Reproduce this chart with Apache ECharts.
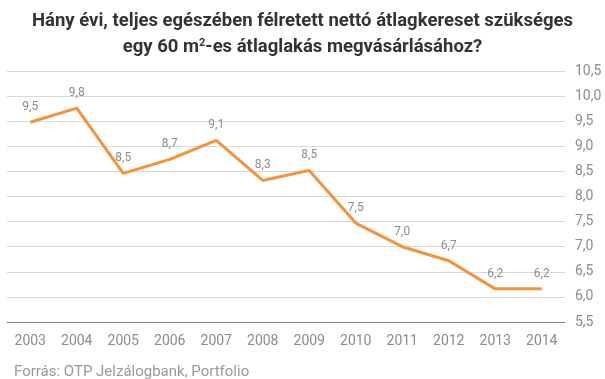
<!DOCTYPE html>
<html><head><meta charset="utf-8">
<script src="https://cdn.jsdelivr.net/npm/echarts@6/dist/echarts.min.js"></script>
<style>html,body{margin:0;padding:0;background:#fff}#c{width:605px;height:379px}</style>
</head><body><div id="c"></div>
<script>
var years = ['2003','2004','2005','2006','2007','2008','2009','2010','2011','2012','2013','2014'];
var values = [9.48, 9.76, 8.46, 8.74, 9.12, 8.32, 8.52, 7.47, 7.0, 6.72, 6.16, 6.16];
var yTicks = {min: 5.5, max: 10.5, interval: 0.5};
var titleLine1 = 'Hány évi, teljes egészében félretett nettó átlagkereset szükséges';
var titleLine2 = 'egy 60 m{sup|2}-es átlaglakás megvásárlásához?';
var source = 'Forrás: OTP Jelzálogbank, Portfolio';

var fmt = function(v){ return v.toFixed(1).replace('.', ','); };
var chart = echarts.init(document.getElementById('c'), null, {renderer:'canvas'});
chart.setOption({
  animation: false,
  title: [{
    text: titleLine1,
    left: 'center', top: 7,
    textStyle: {fontFamily: 'Roboto', fontWeight: 'bold', fontSize: 18.5, color: '#333'}
  },{
    text: titleLine2,
    left: 'center', top: 33,
    textStyle: {fontFamily: 'Roboto', fontWeight: 'bold', fontSize: 18.5, color: '#333',
      rich: {sup: {fontFamily: 'Roboto', fontWeight: 'bold', fontSize: 11, color: '#333', verticalAlign: 'top', padding: [0,0,8,0]}}}
  },{
    text: source,
    left: 9, top: 360,
    textStyle: {fontFamily: 'Roboto', fontWeight: 'normal', fontSize: 15, color: '#999'}
  }],
  grid: {left: 7, right: 40, top: 71, bottom: 57},
  xAxis: {
    type: 'category', data: years, boundaryGap: true,
    axisLine: {lineStyle: {color: '#888', width: 1}},
    axisTick: {show: false},
    axisLabel: {color: '#8c8c8c', fontFamily: 'Roboto', fontSize: 14, margin: 12}
  },
  yAxis: {
    type: 'value', position: 'right', min: yTicks.min, max: yTicks.max, interval: yTicks.interval,
    axisLine: {show: false}, axisTick: {show: false},
    splitLine: {lineStyle: {color: '#d9d9d9', width: 1}},
    axisLabel: {color: '#8c8c8c', fontFamily: 'Roboto', fontSize: 14, margin: 10, formatter: fmt}
  },
  series: [{
    type: 'line', data: values, symbol: 'circle', symbolSize: 0, showSymbol: true,
    lineStyle: {color: '#F5923E', width: 3},
    itemStyle: {color: '#F5923E'},
    label: {show: true, position: 'top', distance: 9, color: '#8c8c8c', fontFamily: 'Roboto', fontSize: 12,
      formatter: function(p){ return fmt(p.value); }}
  }]
});
</script></body></html>
